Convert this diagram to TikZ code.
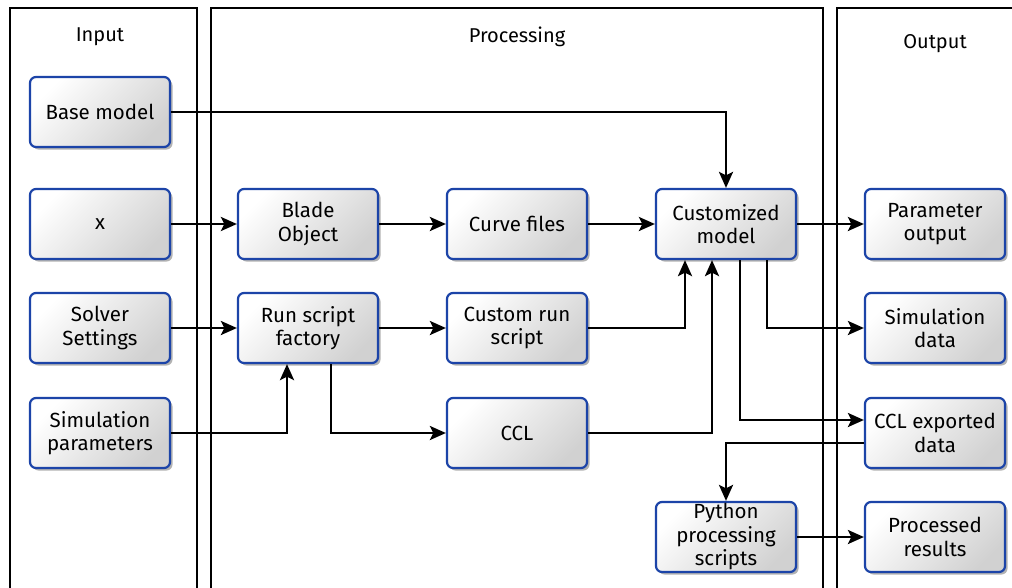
\documentclass[tikz,border=0pt]{standalone}
\usepackage{fontspec}
\setmainfont{Fira Sans}
\usetikzlibrary{arrows.meta,shadows,positioning}
\definecolor{boxblue}{RGB}{28,68,168}
\tikzset{
  box/.style={draw=boxblue, line width=2.2pt, rounded corners=6pt,
    minimum width=140pt, minimum height=70pt, inner sep=0pt,
    align=center, font=\fontsize{20.5}{23.5}\selectfont,
    shading=axis, left color=white, right color=gray!36, shading angle=45,
    drop shadow={shadow xshift=2.5pt, shadow yshift=-2.5pt, opacity=0.3, fill=black}},
  panel/.style={draw=black, line width=1.3pt},
  title/.style={font=\fontsize{20}{23}\selectfont},
  arr/.style={draw=black, line width=2.8pt, -{Stealth[length=16pt,width=14pt,inset=3.5pt]}}
}
\begin{document}
\begin{tikzpicture}[x=1pt,y=-1pt]
\useasboundingbox (0,0) rectangle (1012,587);
\clip (0,0) rectangle (1012,587);
\fill[white] (0,0) rectangle (1012,587);
% panels
\draw[panel] (10,610) -- (10,8) -- (197,8) -- (197,610);
\draw[panel] (211,610) -- (211,8) -- (823,8) -- (823,610);
\draw[panel] (837,610) -- (837,8) -- (1030,8);
\node[title] (tin) at (100,37) {Input};
\node[title] (tproc) at (517,37) {Processing};
\node[title] (tout) at (935,44) {Output};
% nodes
\node[box] (base) at (100,112) {Base model};
\node[box] (xin) at (100,224) {x};
\node[box] (solver) at (100,328) {Solver\\Settings};
\node[box] (simpar) at (100,433) {Simulation\\parameters};
\node[box] (blade) at (308,224) {Blade\\Object};
\node[box] (runf) at (308,328) {Run script\\factory};
\node[box] (curve) at (517,224) {Curve files};
\node[box] (crun) at (517,328) {Custom run\\script};
\node[box] (ccl) at (517,433) {CCL};
\node[box] (cust) at (726,224) {Customized\\model};
\node[box] (py) at (726,537) {Python\\processing\\scripts};
\node[box] (param) at (935,224) {Parameter\\output};
\node[box] (simdata) at (935,328) {Simulation\\data};
\node[box] (cclexp) at (935,433) {CCL exported\\data};
\node[box] (proc) at (935,537) {Processed\\results};
% connectors
\draw[arr] (base.east) -| (cust.north);
\draw[arr] (xin) -- (blade);
\draw[arr] (blade) -- (curve);
\draw[arr] (curve) -- (cust);
\draw[arr] (cust) -- (param);
\draw[arr] (solver) -- (runf);
\draw[arr] (runf) -- (crun);
\draw[arr] (simpar.east) -| ([xshift=-21pt]runf.south);
\draw[arr] ([xshift=23pt]runf.south) |- (ccl.west);
\draw[arr] (crun.east) -| ([xshift=-41pt]cust.south);
\draw[arr] (ccl.east) -| ([xshift=-14pt]cust.south);
\draw[arr] ([xshift=14pt]cust.south) |- ([yshift=13pt]cclexp.west);
\draw[arr] ([xshift=41pt]cust.south) |- (simdata.west);
\draw[arr] ([yshift=-10pt]cclexp.west) -| (py.north);
\draw[arr] (py) -- (proc);
\end{tikzpicture}
\end{document}
